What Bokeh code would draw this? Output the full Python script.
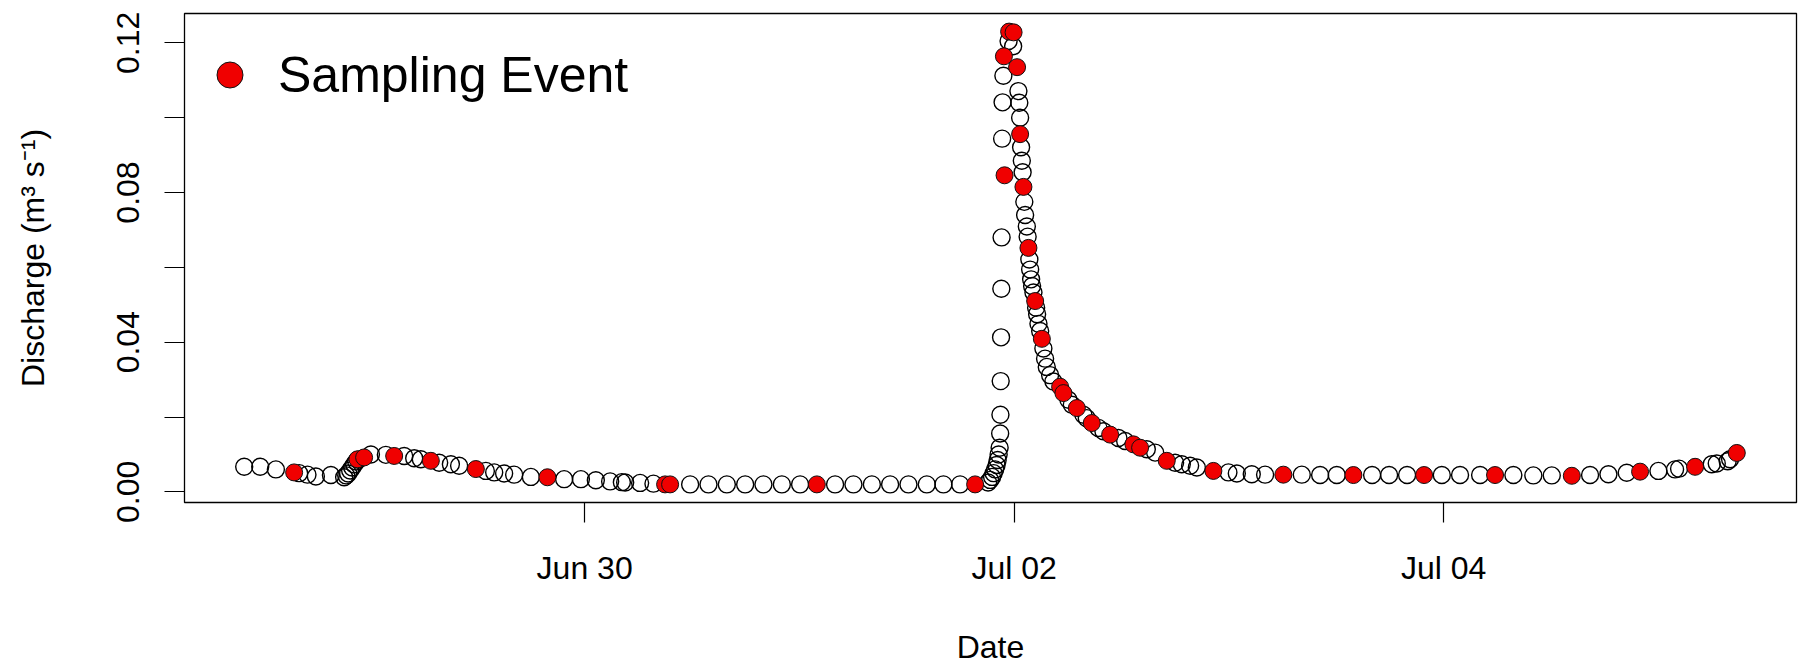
import pandas as pd
from bokeh.plotting import figure
from bokeh.models import Range1d, FixedTicker, Legend, LegendItem, ColumnDataSource, DatetimeTickFormatter
from bokeh.embed import file_html
from bokeh.resources import INLINE

# ---------------- data (hours since 2016-06-28 00:00, discharge m3/s) ----------------
discharge_hours = [
    9.95, 11.74, 13.49, 16.09, 17.02, 17.96, 19.64,
    21.12, 21.35, 21.57, 21.79, 22.02, 22.24, 22.47, 22.69,
    24.11, 25.78, 27.83, 28.95, 29.69, 31.74, 33.05, 33.97,
    36.96, 37.89, 39.00, 40.12, 41.99, 45.71, 47.58, 49.25,
    50.85, 52.16, 52.53, 54.20, 55.69, 59.79, 61.84, 63.89, 65.94, 67.98, 70.04, 72.08,
    75.99, 78.04, 80.10, 82.14, 84.19, 86.24, 88.10, 89.96,
    93.09, 93.32, 93.54, 93.71, 93.88, 94.04, 94.16, 94.27, 94.38,
    94.44, 94.47, 94.50, 94.54, 94.57, 94.60, 94.66, 94.71, 94.80,
    95.38, 95.89,
    96.48, 96.58, 96.67, 96.78, 96.86, 96.95, 97.14, 97.23, 97.42, 97.51,
    97.70, 97.79, 97.90, 98.01, 98.16, 98.46, 98.57, 98.72, 98.91,
    99.27, 99.46, 99.65, 100.02, 100.39, 102.07, 102.45, 103.74, 104.12, 105.42, 105.98,
    107.66, 108.41, 110.83, 111.76, 113.99, 114.74, 115.67, 116.42,
    119.95, 120.89, 122.56, 124.05, 128.15, 130.20, 132.06, 136.01, 137.91, 139.92,
    143.80, 145.84, 148.08, 151.80, 154.03, 156.09, 160.37, 162.42, 164.47,
    168.01, 169.87, 170.32, 173.97, 174.53, 175.75, 176.02,
]
discharge_values = [
    0.0067, 0.0067, 0.0060, 0.0050, 0.0046, 0.0041, 0.0045,
    0.0039, 0.0044, 0.0049, 0.0057, 0.0065, 0.0073, 0.0081, 0.0086,
    0.0100, 0.0099, 0.0096, 0.0090, 0.0087, 0.0078, 0.0074, 0.0070,
    0.0056, 0.0052, 0.0049, 0.0046, 0.0040, 0.0034, 0.0034, 0.0031,
    0.0028, 0.0026, 0.0025, 0.0024, 0.0022, 0.0020, 0.0020, 0.0020, 0.0020, 0.0020, 0.0020, 0.0020,
    0.0020, 0.0020, 0.0020, 0.0020, 0.0020, 0.0020, 0.0020, 0.0020,
    0.0025, 0.0032, 0.0040, 0.0050, 0.0060, 0.0072, 0.0085, 0.0100, 0.0118,
    0.0156, 0.0206, 0.0296, 0.0413, 0.0543, 0.0680, 0.0944, 0.1041, 0.1112,
    0.1205, 0.1191,
    0.1071, 0.1040, 0.1000, 0.0921, 0.0885, 0.0854, 0.0775, 0.0740, 0.0709, 0.0682,
    0.0621, 0.0594, 0.0568, 0.0550, 0.0533, 0.0492, 0.0475, 0.0449, 0.0430,
    0.0383, 0.0356, 0.0334, 0.0312, 0.0295, 0.0246, 0.0233, 0.0206, 0.0197, 0.0171, 0.0162,
    0.0144, 0.0136, 0.0114, 0.0105, 0.0078, 0.0074, 0.0070, 0.0065,
    0.0052, 0.0049, 0.0047, 0.0046, 0.0046, 0.0045, 0.0045, 0.0045, 0.0045, 0.0045,
    0.0045, 0.0045, 0.0045, 0.0045, 0.0044, 0.0044, 0.0045, 0.0047, 0.0051,
    0.0056, 0.0060, 0.0062, 0.0074, 0.0076, 0.0082, 0.0087,
]
sampling_hours = [
    15.53, 22.61, 23.35, 26.71, 30.81, 35.84, 43.84,
    56.99, 57.55, 73.95, 91.64,
    94.86, 94.93, 95.44, 95.94, 96.33,
    96.67, 97.04, 97.60, 98.35, 99.10,
    101.14, 101.51, 103.01, 104.68, 106.73, 109.33, 110.08,
    113.06, 118.27, 126.09, 133.92, 141.82, 149.75, 158.33, 165.96, 172.11, 176.77,
]
sampling_values = [
    0.0052, 0.0087, 0.0092, 0.0096, 0.0083, 0.0061, 0.0039,
    0.0020, 0.0020, 0.0020, 0.0020,
    0.1164, 0.0846, 0.1230, 0.1228, 0.1135,
    0.0956, 0.0815, 0.0652, 0.0510, 0.0409,
    0.0281, 0.0264, 0.0224, 0.0184, 0.0153, 0.0127, 0.0118,
    0.0083, 0.0056, 0.0046, 0.0045, 0.0045, 0.0045, 0.0043, 0.0054, 0.0067, 0.0104,
]
start_time = "2016-06-28 00:00"
x_tick_dates = ["2016-06-30", "2016-07-02", "2016-07-04"]
y_ticks = [0.00, 0.02, 0.04, 0.06, 0.08, 0.10, 0.12]
y_tick_labels = ["0.00", "", "0.04", "", "0.08", "", "0.12"]
legend_label = "Sampling Event"
x_title = "Date"
y_title = "Discharge (m\u00b3 s\u207b\u00b9)"

# ---------------- build ----------------
base = pd.Timestamp(start_time)
d_t = base + pd.to_timedelta(discharge_hours, unit="h")
s_t = base + pd.to_timedelta(sampling_hours, unit="h")
src_d = ColumnDataSource(dict(t=d_t, q=discharge_values))
src_s = ColumnDataSource(dict(t=s_t, q=sampling_values))

def ms(ts):
    return pd.Timestamp(ts).value / 1e6

all_ms = [ms(t) for t in list(d_t) + list(s_t)]
xmin, xmax = min(all_ms), max(all_ms)
xpad = 0.04 * (xmax - xmin)
all_q = list(discharge_values) + list(sampling_values)
ymin, ymax = min(all_q), max(all_q)
ypad = 0.04 * (ymax - ymin)

FONT = "Liberation Sans"

p = figure(width=1806, height=667, x_axis_type="datetime",
           output_backend="svg", toolbar_location=None,
           x_range=Range1d(xmin - xpad, xmax + xpad),
           y_range=Range1d(ymin - ypad, ymax + ypad),
           min_border_left=184, min_border_right=10,
           min_border_top=13, min_border_bottom=161)
p.background_fill_color = "white"
p.border_fill_color = "white"
p.grid.visible = False
p.outline_line_color = "black"
p.outline_line_width = 1.3

p.scatter("t", "q", source=src_d, size=17, marker="circle",
          fill_color=None, line_color="black", line_width=1.4)
red_r = p.scatter("t", "q", source=src_s, size=17, marker="circle",
                  fill_color="#f00000", line_color="#111111", line_width=1.0)

# x axis
xa = p.xaxis[0]
xa.ticker = FixedTicker(ticks=[ms(d) for d in x_tick_dates])
xa.formatter = DatetimeTickFormatter(days="%b %d", months="%b %d", hours="%b %d",
                                     years="%b %d", microseconds="%b %d",
                                     milliseconds="%b %d", seconds="%b %d",
                                     minsec="%b %d", minutes="%b %d", hourmin="%b %d")
xa.axis_label = x_title
# y axis
ya = p.yaxis[0]
ya.ticker = FixedTicker(ticks=y_ticks)
ya.major_label_overrides = dict(zip(y_ticks, y_tick_labels))
ya.axis_label = y_title
ya.major_label_orientation = "vertical"

for ax in (xa, ya):
    ax.axis_line_color = None
    ax.major_tick_out = 20
    ax.major_tick_in = 0
    ax.minor_tick_line_color = None
    ax.major_tick_line_color = "black"
    ax.major_tick_line_width = 1.2
    ax.major_label_text_font = FONT
    ax.major_label_text_font_size = "32px"
    ax.major_label_text_color = "black"
    ax.axis_label_text_font = FONT
    ax.axis_label_text_font_size = "32px"
    ax.axis_label_text_font_style = "normal"
    ax.axis_label_text_color = "black"

xa.major_label_standoff = 27
xa.axis_label_standoff = 40
ya.major_label_standoff = 25
ya.axis_label_standoff = 64

legend = Legend(items=[LegendItem(label=legend_label, renderers=[red_r])],
                location=(8, 390), glyph_width=65, glyph_height=65,
                padding=5, margin=0, spacing=0, label_standoff=16,
                label_text_font=FONT, label_text_font_size="50px",
                label_text_color="black",
                border_line_alpha=0, background_fill_alpha=0)
p.add_layout(legend)

open("out.html", "w").write(file_html(p, INLINE))
